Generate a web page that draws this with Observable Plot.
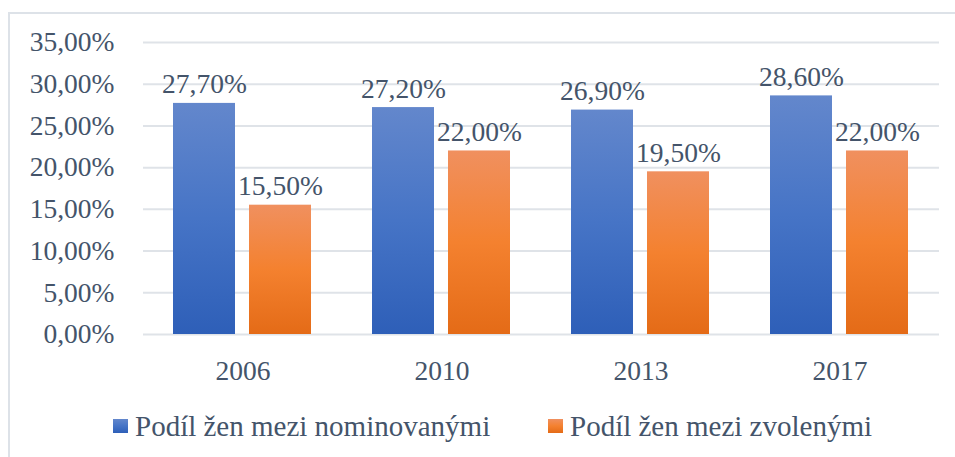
<!DOCTYPE html>
<html>
<head>
<meta charset="utf-8">
<script src="https://cdn.jsdelivr.net/npm/d3@7"></script>
<script src="https://cdn.jsdelivr.net/npm/@observablehq/plot@0.6"></script>
<style>
  html, body { margin: 0; padding: 0; background: #fff; }
  body { width: 955px; height: 457px; position: relative; overflow: hidden; font-family: 'Liberation Serif', 'DejaVu Serif', serif; color: #44546a; }
  #frame { position: absolute; left: 8px; top: 12px; width: 980px; height: 480px; border: 2px solid #dde2e8; box-sizing: border-box; }
  #chart { position: absolute; left: 0; top: 0; }
  .leg { position: absolute; top: 406px; font-size: 29px; line-height: 40px; white-space: nowrap; }
  .sw { position: absolute; width: 15px; height: 14px; top: 13px; left: 0; }
  .leg span.t { position: absolute; left: 22px; top: 0; }
  svg text { font-family: 'Liberation Serif', 'DejaVu Serif', serif !important; }
</style>
</head>
<body>
<div id="frame"></div>
<div id="chart"></div>
<div id="legend"></div>
<script>
const years = ["2006", "2010", "2013", "2017"];
const seriesNames = ["Podíl žen mezi nominovanými", "Podíl žen mezi zvolenými"];
const nominated = [27.7, 27.2, 26.9, 28.6];
const elected = [15.5, 22.0, 19.5, 22.0];
const yTicks = [0, 5, 10, 15, 20, 25, 30, 35];
const gradients = {
  [seriesNames[0]]: {id: "gBlue", stops: ["#6387cc", "#4674c6", "#2e5fb8"]},
  [seriesNames[1]]: {id: "gOrange", stops: ["#f0905f", "#f4812f", "#e46b17"]}
};

const rows = [];
years.forEach((y, i) => {
  rows.push({year: y, series: seriesNames[0], value: nominated[i]});
  rows.push({year: y, series: seriesNames[1], value: elected[i]});
});

const fmt = d => d.toFixed(2).replace(".", ",") + "%";

function defsMark() {
  const defs = d3.create("svg:defs");
  for (const k of seriesNames) {
    const g = gradients[k];
    const lg = defs.append("linearGradient").attr("id", g.id).attr("x1", 0).attr("y1", 0).attr("x2", 0).attr("y2", 1);
    lg.append("stop").attr("offset", "0%").attr("stop-color", g.stops[0]);
    lg.append("stop").attr("offset", "50%").attr("stop-color", g.stops[1]);
    lg.append("stop").attr("offset", "100%").attr("stop-color", g.stops[2]);
  }
  return defs.node();
}

const chart = Plot.plot({
  width: 955,
  height: 400,
  marginLeft: 142,
  marginRight: 15,
  marginTop: 42,
  marginBottom: 66,
  style: {fontFamily: "'Liberation Serif', 'DejaVu Serif', serif", fontSize: "27px", color: "#44546a", background: "transparent"},
  fx: {domain: years, padding: 0, label: null},
  x: {domain: seriesNames, paddingInner: 0.183, paddingOuter: 0.395, axis: null},
  y: {domain: [0, 35], label: null},
  marks: [
    defsMark,
    Plot.ruleY(yTicks, {stroke: "#dfe3e8", strokeWidth: 2}),
    Plot.barY(rows, {fx: "year", x: "series", y: "value", fill: d => `url(#${gradients[d.series].id})`}),
    Plot.text(rows, {fx: "year", x: "series", y: "value", text: d => fmt(d.value), lineAnchor: "bottom", dy: -10, fill: "#44546a", fontSize: 27.5}),
    Plot.axisY(yTicks, {tickSize: 0, tickPadding: 29, tickFormat: fmt, label: null, fontSize: 27.5}),
    Plot.axisFx({anchor: "bottom", tickSize: 0, tickPadding: 26, label: null, fontSize: 27.5})
  ]
});
document.getElementById("chart").append(chart);

const legendItems = [
  {name: seriesNames[0], left: 113},
  {name: seriesNames[1], left: 548}
];
const legend = document.getElementById("legend");
legendItems.forEach(it => {
  const g = gradients[it.name];
  const div = document.createElement("div");
  div.className = "leg";
  div.style.left = it.left + "px";
  const sw = document.createElement("div");
  sw.className = "sw";
  sw.style.background = `linear-gradient(to bottom, ${g.stops[0]}, ${g.stops[1]}, ${g.stops[2]})`;
  const t = document.createElement("span");
  t.className = "t";
  t.textContent = it.name;
  div.append(sw, t);
  legend.append(div);
});
</script>
</body>
</html>
